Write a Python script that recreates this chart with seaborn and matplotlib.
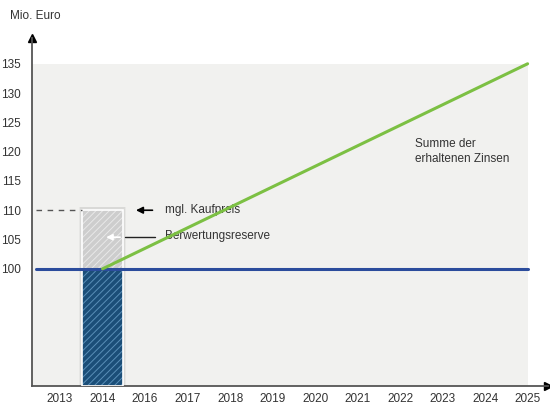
import numpy as np
import pandas as pd
import matplotlib
matplotlib.use("Agg")
import matplotlib.pyplot as plt
import seaborn as sns

# data
year_labels = ['2013', '2014', '2016', '2017', '2018', '2019', '2020',
               '2021', '2022', '2023', '2024', '2025']
y_ticks = [85, 90, 95, 100, 105, 110, 115, 120, 125, 130, 135]
y_labels = ['', '', '', '100', '105', '110', '115', '120', '125', '130', '135']
interest_years = ['2014', '2025']
interest_values = [100, 135]
book_value = 100
purchase_price = 110
bar_year = '2014'

pos = {y: i for i, y in enumerate(year_labels)}
x_left, x_right = -0.66, 11.48
y_bottom, y_top = 80, 139.4

sns.set_style("white")
plt.rcParams['font.family'] = ['Liberation Sans', 'DejaVu Sans']
plt.rcParams['hatch.linewidth'] = 0.7
txt = '#333333'
fs = 8.5

fig = plt.figure(figsize=(5.5, 4.11), dpi=100)
ax = fig.add_axes([32 / 550, 25 / 411, 516 / 550, 348 / 411])
ax.set_xlim(x_left, x_right)
ax.set_ylim(y_bottom, y_top)

# grey plot area
ax.fill_between([x_left, pos['2025']], y_bottom, max(y_ticks),
                color='#f1f1ef', lw=0, zorder=0)

# bar: shadow, book value part, reserve part
bx = pos[bar_year]
for w, a in [(1.10, 0.04), (1.05, 0.06)]:
    ax.bar(bx, purchase_price + 0.5 - y_bottom, width=w, bottom=y_bottom,
           color='#000000', alpha=a, lw=0, zorder=1)
ax.bar(bx, book_value - y_bottom, width=0.98, bottom=y_bottom,
       color='#1b4e78', edgecolor='#5a8fb8', hatch='/////', lw=0, zorder=2)
ax.bar(bx, purchase_price - book_value, width=0.98, bottom=book_value,
       color='#cdcdcd', edgecolor='#e8e8e8', hatch='/////', lw=0, zorder=2)
ax.bar(bx, purchase_price - y_bottom, width=0.98, bottom=y_bottom,
       fill=False, edgecolor='white', lw=1.2, zorder=3)

# lines
base = pd.DataFrame({'x': [x_left + 0.1, pos['2025']],
                     'y': [book_value, book_value]})
sns.lineplot(data=base, x='x', y='y', color='#2b4c9c', lw=2.2, ax=ax,
             zorder=4)
interest = pd.DataFrame({'x': [pos[y] for y in interest_years],
                         'y': interest_values})
sns.lineplot(data=interest, x='x', y='y', color='#7cc043', lw=2.2, ax=ax,
             zorder=5)

# dashed purchase price guide
ax.plot([x_left + 0.1, bx - 0.49], [purchase_price] * 2, ls=(0, (4, 4)),
        color='#555555', lw=1, zorder=3)

# annotations
ax.annotate('', xy=(1.72, purchase_price), xytext=(2.24, purchase_price),
            arrowprops=dict(arrowstyle='-|>', color='black', lw=1.2,
                            mutation_scale=10), zorder=6)
ax.text(2.47, purchase_price, 'mgl. Kaufpreis', fontsize=fs, color=txt,
        va='center', ha='left')
ax.plot([1.53, 2.24], [105.4, 105.4], color='#222222', lw=1, zorder=6)
ax.annotate('', xy=(1.02, 105.4), xytext=(1.48, 105.4),
            arrowprops=dict(arrowstyle='-|>', color='white', lw=1.2,
                            mutation_scale=9), zorder=6)
ax.text(2.47, 105.6, 'Berwertungsreserve', fontsize=fs, color=txt,
        va='center', ha='left')
ax.text(8.35, 120, 'Summe der\nerhaltenen Zinsen', fontsize=fs, color=txt,
        va='center', ha='left', linespacing=1.4)

# axes styling
for s in ['top', 'right']:
    ax.spines[s].set_visible(False)
for s in ['left', 'bottom']:
    ax.spines[s].set_color('#555555')
    ax.spines[s].set_linewidth(1.3)
ax.plot(0, 1, '^', color='black', ms=6, transform=ax.transAxes,
        clip_on=False)
ax.plot(1, 0, '>', color='black', ms=6, transform=ax.transAxes,
        clip_on=False)

ax.set_xticks(range(len(year_labels)))
ax.set_xticklabels(year_labels)
ax.set_yticks(y_ticks)
ax.set_yticklabels(y_labels)
ax.tick_params(direction='inout', length=10, width=1, color='#444444',
               labelsize=fs, labelcolor=txt)
ax.tick_params(axis='x', pad=0)
ax.tick_params(axis='y', pad=3)
ax.set_xlabel('')
ax.set_ylabel('')

fig.text(10 / 550, 1 - 16 / 411, 'Mio. Euro', fontsize=fs, color=txt,
         va='center', ha='left')

fig.savefig('out.png', dpi=100)
